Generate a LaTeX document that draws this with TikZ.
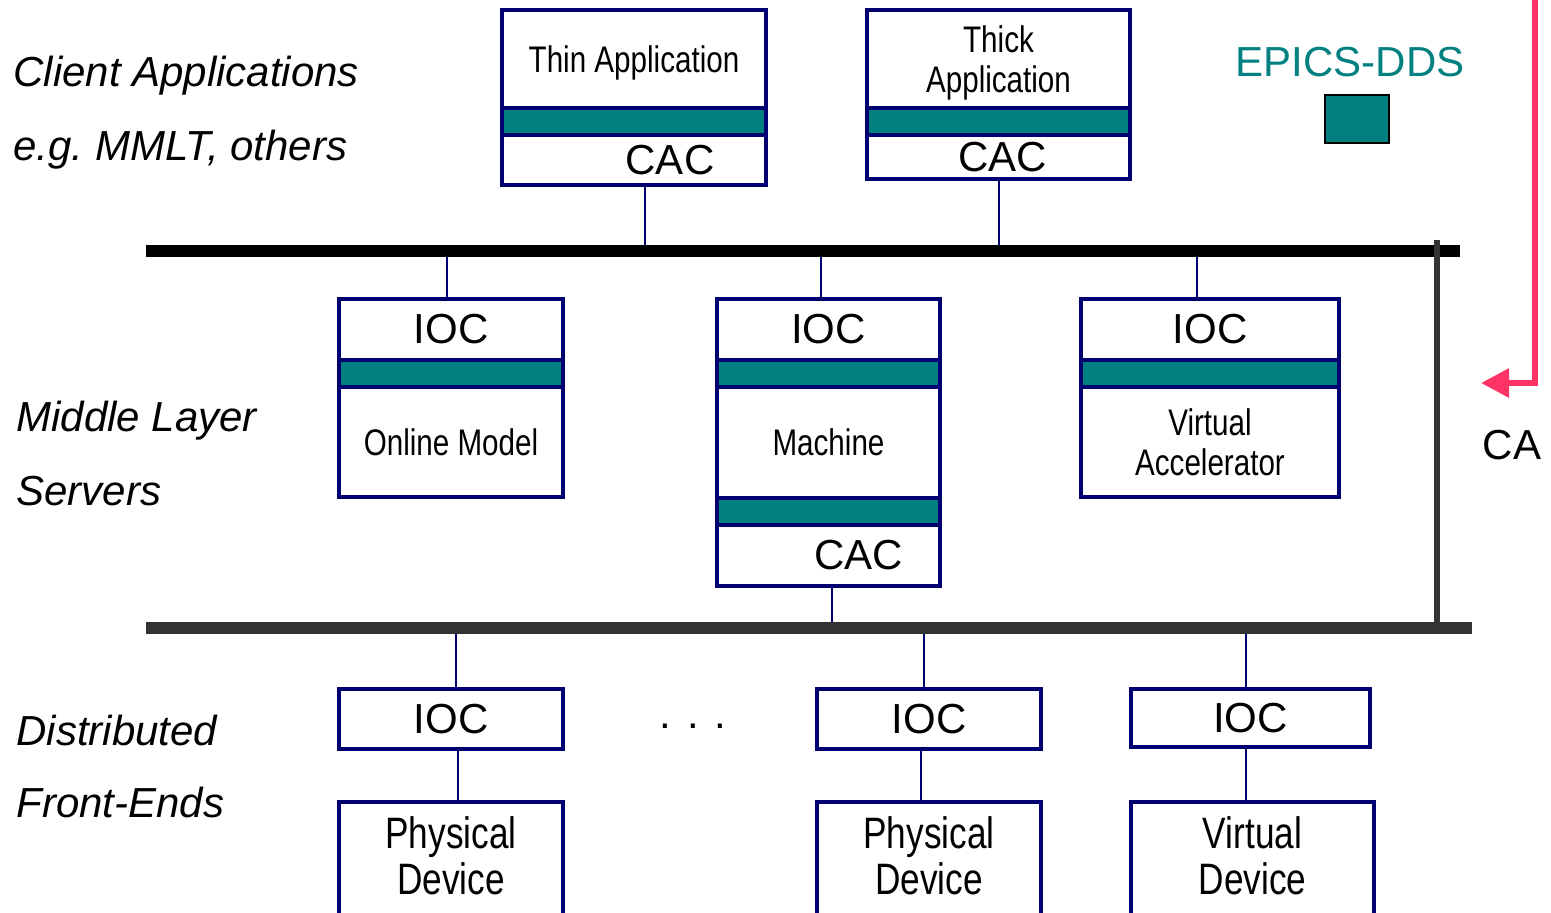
\documentclass[tikz,border=0pt]{standalone}
\usepackage{fontspec}
\setmainfont{Liberation Sans}
\newfontfamily\narrowfont{Liberation Sans}[FakeStretch=0.8]
\usetikzlibrary{positioning,arrows.meta}

\definecolor{navy}{RGB}{0,0,112}
\definecolor{epicsteal}{RGB}{0,128,128}
\definecolor{cared}{RGB}{255,51,102}
\definecolor{busgray}{RGB}{51,51,51}

\tikzset{
  boxpart/.style={draw=navy, line width=2.3pt, fill=white, inner sep=0pt, outer sep=0pt},
  tealband/.style={boxpart, fill=epicsteal, minimum height=13.5pt},
  wire/.style={draw=navy, line width=0.8pt},
  busline/.style={line width=6pt},
  layerlabel/.style={anchor=west, inner sep=0pt, font=\fontsize{21}{24}\selectfont\itshape},
  ioctext/.style={font=\fontsize{21}{24}\selectfont},
  thintext/.style={font=\narrowfont\fontsize{18.5}{20}\selectfont, align=center},
  devtext/.style={font=\narrowfont\fontsize{22}{23}\selectfont, align=center, text depth=4pt},
}

\begin{document}
\begin{tikzpicture}[x=0.5pt,y=-0.5pt]
\useasboundingbox (0,0) rectangle (1551,912);

% layer names on the left
\node[layerlabel] (client) at (13,76) {Client Applications};
\node[layerlabel] (clientex) at (13,150) {e.g.\ MMLT, others};
\node[layerlabel] (middle) at (16,421) {Middle Layer};
\node[layerlabel] (servers) at (16,491) {Servers};
\node[layerlabel] (distrib) at (16,730) {Distributed};
\node[layerlabel] (frontends) at (16,802) {Front-Ends};

% client applications
\node[boxpart, thintext, text depth=0pt, anchor=north west, minimum width=132pt, minimum height=49pt] (thin) at (502,10) {Thin Application};
\node[tealband, minimum width=132pt, below=0pt of thin] (thinband) {};
\node[boxpart, minimum width=132pt, minimum height=25pt, below=0pt of thinband,
      label={[ioctext, xshift=18pt]center:CAC}] (thincac) {};

\node[boxpart, thintext, text depth=0pt, anchor=north west, minimum width=131.5pt, minimum height=49pt] (thick) at (867,10) {Thick\\Application};
\node[tealband, minimum width=131.5pt, below=0pt of thick] (thickband) {};
\node[boxpart, minimum width=131.5pt, minimum height=22pt, below=0pt of thickband,
      label={[ioctext, xshift=2pt]center:CAC}] (thickcac) {};

% legend
\node[ioctext, text=epicsteal] (dds) at (1350,62) {EPICS-DDS};
\node[draw=black, line width=0.6pt, fill=epicsteal, minimum width=32pt, minimum height=24pt, inner sep=0pt] (ddskey) at (1357,119) {};

% middle layer servers
\node[boxpart, ioctext, anchor=north west, minimum width=112pt, minimum height=30.5pt] (omioc) at (339,299) {IOC};
\node[tealband, minimum width=112pt, below=0pt of omioc] (omband) {};
\node[boxpart, thintext, minimum width=112pt, minimum height=55pt, below=0pt of omband] (om) {Online Model};

\node[boxpart, ioctext, anchor=north west, minimum width=111.5pt, minimum height=30.5pt] (machioc) at (717,299) {IOC};
\node[tealband, minimum width=111.5pt, below=0pt of machioc] (machband) {};
\node[boxpart, thintext, minimum width=111.5pt, minimum height=55.5pt, below=0pt of machband] (mach) {Machine};
\node[tealband, minimum width=111.5pt, below=0pt of mach] (machband2) {};
\node[boxpart, minimum width=111.5pt, minimum height=30.5pt, below=0pt of machband2,
      label={[ioctext, xshift=15pt]center:CAC}] (machcac) {};

\node[boxpart, ioctext, anchor=north west, minimum width=129pt, minimum height=30.5pt] (vaioc) at (1081,299) {IOC};
\node[tealband, minimum width=129pt, below=0pt of vaioc] (vaband) {};
\node[boxpart, thintext, minimum width=129pt, minimum height=55pt, below=0pt of vaband] (va) {Virtual\\Accelerator};

% front-ends
\node[boxpart, ioctext, anchor=north west, minimum width=112pt, minimum height=30pt] (fioc1) at (339,689) {IOC};
\node[boxpart, ioctext, anchor=north west, minimum width=112pt, minimum height=30pt] (fioc2) at (817,689) {IOC};
\node[boxpart, ioctext, anchor=north west, minimum width=119.5pt, minimum height=29pt] (fioc3) at (1131,689) {IOC};
\node[ioctext] (dots) at (693,726) {. . .};

\node[boxpart, devtext, anchor=north west, minimum width=112pt, minimum height=58pt] (dev1) at (339,802) {Physical\\Device};
\node[boxpart, devtext, anchor=north west, minimum width=112pt, minimum height=58pt] (dev2) at (817,802) {Physical\\Device};
\node[boxpart, devtext, anchor=north west, minimum width=121.5pt, minimum height=58pt] (dev3) at (1131,802) {Virtual\\Device};

% bus taps
\coordinate (tapthin) at (645,251);
\coordinate (tapthick) at (999,251);
\coordinate (tapom) at (447,251);
\coordinate (tapmach) at (821,251);
\coordinate (tapva) at (1197,251);
\coordinate (tapcac) at (832,628);
\coordinate (tapf1) at (456,628);
\coordinate (tapf2) at (924,628);
\coordinate (tapf3) at (1246,628);
\coordinate (devtap1) at (458,0);
\coordinate (devtap2) at (921,0);

\draw[wire] (tapthin |- thincac.south) -- (tapthin);
\draw[wire] (tapthick |- thickcac.south) -- (tapthick);
\draw[wire] (tapom) -- (tapom |- omioc.north);
\draw[wire] (tapmach) -- (tapmach |- machioc.north);
\draw[wire] (tapva) -- (tapva |- vaioc.north);
\draw[wire] (tapcac |- machcac.south) -- (tapcac);
\draw[wire] (tapf1) -- (tapf1 |- fioc1.north);
\draw[wire] (tapf2) -- (tapf2 |- fioc2.north);
\draw[wire] (tapf3) -- (tapf3 |- fioc3.north);
\draw[wire] (devtap1 |- fioc1.south) -- (devtap1 |- dev1.north);
\draw[wire] (devtap2 |- fioc2.south) -- (devtap2 |- dev2.north);
\draw[wire] (tapf3 |- fioc3.south) -- (tapf3 |- dev3.north);

% buses
\coordinate (busA-w) at (146,251);
\coordinate (busA-e) at (1460,251);
\coordinate (busB-w) at (146,628);
\coordinate (busB-e) at (1472,628);
\coordinate (caline) at (1437,240);
\draw[busline] (busA-w) -- (busA-e);
\draw[busline, busgray] (busB-w) -- (busB-e);
\draw[line width=3pt, busgray] (caline) -- (caline |- busB-w);

% CA arrow
\coordinate (ca-top) at (1535,-5);
\coordinate (ca-tip) at (1481,383);
\draw[cared, line width=3pt, line join=miter, -{Triangle[length=14pt,width=14pt]}] (ca-top) |- (ca-tip);
\node[ioctext] (ca) at (1512,445) {CA};

\end{tikzpicture}
\end{document}
